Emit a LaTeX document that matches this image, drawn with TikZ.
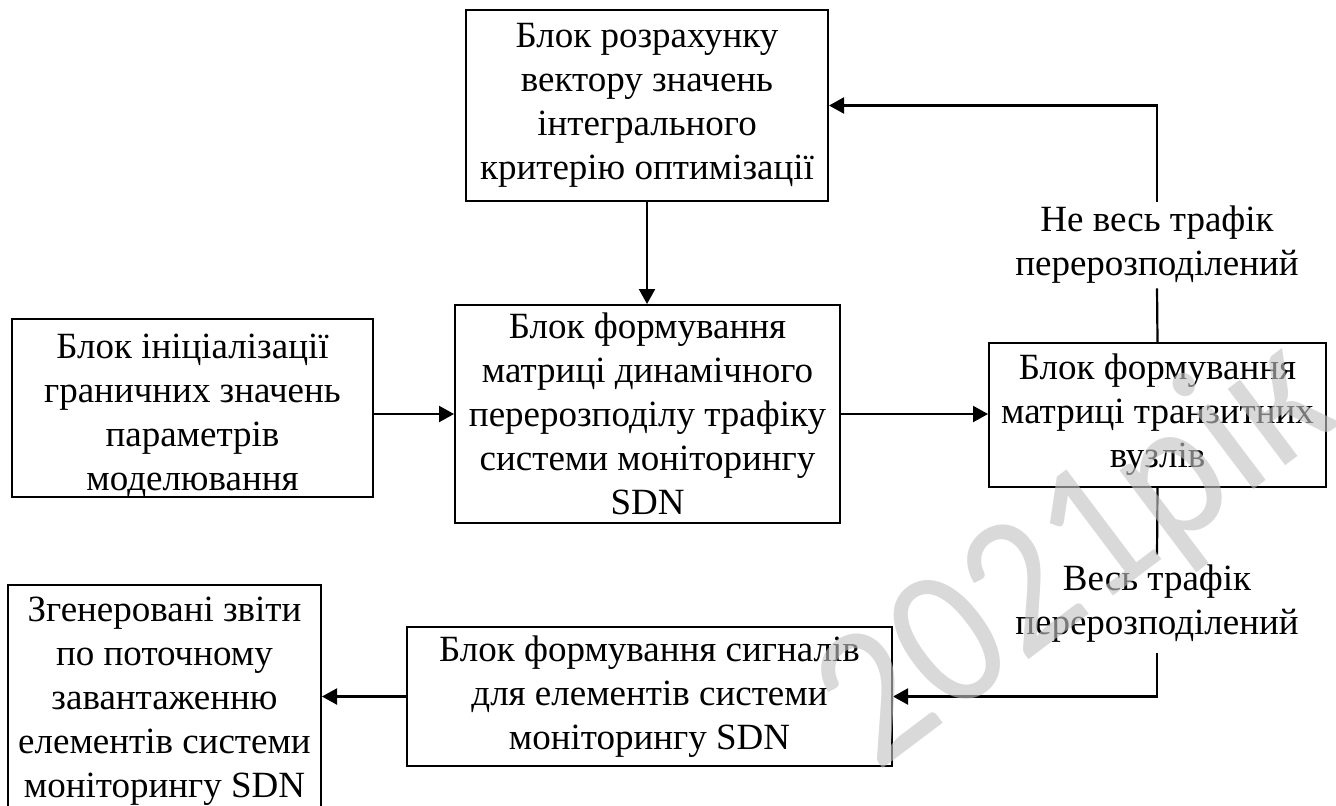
\documentclass[tikz,border=0pt]{standalone}
\usepackage{fontspec}
\setmainfont{Liberation Serif}
\newfontfamily\markfont{Carlito}
\usetikzlibrary{arrows.meta}

\tikzset{
  blk/.style={draw, line width=1pt, inner sep=0pt, align=center,
    font=\fontsize{18.5}{22}\selectfont},
  lbl/.style={inner sep=0pt, align=center, font=\fontsize{18.5}{22}\selectfont},
  link/.style={line width=1.1pt},
  arr/.style={link, -{Triangle[length=7.5pt,width=8pt]}},
}

\begin{document}
\begin{tikzpicture}[x=0.5pt,y=-0.5pt]
  \useasboundingbox (0,0) rectangle (1336,805);
  \clip (0,0) rectangle (1336,805);

  % blocks
  \node[blk, minimum width=181pt, minimum height=95.5pt] (crit) at (647,105.5)
    {Блок розрахунку\\вектору значень\\інтегрального\\критерію оптимізації};
  \node[blk, minimum width=180.5pt, minimum height=89pt] (init) at (192.5,408) {};
  \node[lbl] (inittext) at (192.5,416)
    {Блок ініціалізації\\граничних значень\\параметрів\\моделювання};
  \node[blk, minimum width=192.5pt, minimum height=109pt] (mat) at (647.5,414)
    {Блок формування\\матриці динамічного\\перерозподілу трафіку\\системи моніторингу\\SDN};
  \node[blk, minimum width=168.5pt, minimum height=72pt] (trans) at (1157.5,415)
    {Блок формування\\матриці транзитних\\вузлів};
  \node[blk, minimum width=242.5pt, minimum height=69.5pt] (sig) at (649.5,696.5)
    {Блок формування сигналів\\для елементів системи\\моніторингу SDN};
  \node[blk, minimum width=156.5pt, minimum height=116pt] (rep) at (164.5,701)
    {Згенеровані звіти\\по поточному\\завантаженню\\елементів системи\\моніторингу SDN};

  % branch labels
  \node[lbl, minimum height=43pt] (notall) at (1157,245)
    {Не весь трафік\\перерозподілений};
  \node[lbl, minimum height=49pt] (all) at (1157,604)
    {Весь трафік\\перерозподілений};

  % connectors
  \draw[arr] (crit.south) -- (crit.south |- mat.north);
  \draw[arr] (mat.west -| init.east) -- (mat.west);
  \draw[arr] (mat.east) -- (mat.east -| trans.west);
  \draw[link] (trans.north) -- (notall.south);
  \draw[arr] (notall.north) |- (crit.east);
  \draw[link] (trans.south) -- (all.north);
  \draw[arr] (all.south) |- (sig.east);
  \draw[arr] (sig.west) -- (sig.west -| rep.east);

  % watermark
  \node[font=\markfont\fontsize{100}{110}\selectfont, text=black!24,
        text opacity=0.62, inner sep=0pt, rotate=37, xscale=0.9]
    (wm) at (1078,556) {2021рік};
\end{tikzpicture}
\end{document}
